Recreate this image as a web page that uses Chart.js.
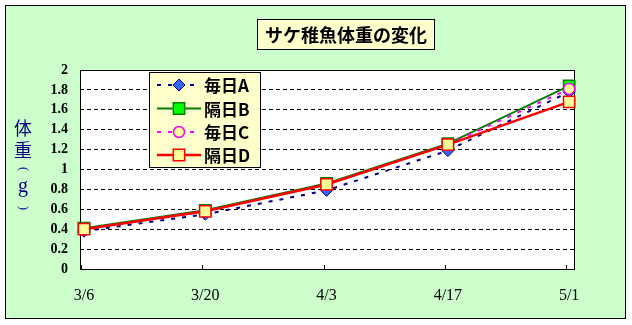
<!DOCTYPE html>
<html>
<head>
<meta charset="utf-8">
<script src="https://cdn.jsdelivr.net/npm/chart.js@4/dist/chart.umd.min.js"></script>
<style>
html,body{margin:0;padding:0;background:#fff;}
#wrap{width:632px;height:325px;position:relative;}
</style>
</head>
<body>
<div id="wrap"><canvas id="c" width="632" height="325"></canvas></div>
<script>
const titleText = 'サケ稚魚体重の変化';
const yTitleChars = ['体', '重', '(', 'g', ')'];
const categories = ['3/6', '3/20', '4/3', '4/17', '5/1'];
const yTickLabels = ['0', '0.2', '0.4', '0.6', '0.8', '1', '1.2', '1.4', '1.6', '1.8', '2'];
const seriesNames = ['毎日A', '隔日B', '毎日C', '隔日D'];
const dailyA = [0.38, 0.55, 0.79, 1.19, 1.78];
const alternateB = [0.41, 0.59, 0.86, 1.26, 1.84];
const dailyC = [0.40, 0.58, 0.85, 1.25, 1.81];
const alternateD = [0.40, 0.58, 0.85, 1.25, 1.68];

const toPts = arr => arr.map((v, i) => ({x: i, y: v}));

const datasets = [
  {label: seriesNames[0], data: toPts(dailyA), borderColor: '#000080', borderWidth: 2, borderDash: [4, 7],
   pointStyle: 'rectRot', pointRadius: 6, pointBackgroundColor: '#3366FF', pointBorderColor: '#000080', pointBorderWidth: 1, order: 3},
  {label: seriesNames[1], data: toPts(alternateB), borderColor: '#008000', borderWidth: 2,
   pointStyle: 'rect', pointRadius: 8, pointBackgroundColor: '#00FF00', pointBorderColor: '#008000', pointBorderWidth: 1.5, order: 2},
  {label: seriesNames[2], data: toPts(dailyC), borderColor: '#FF00FF', borderWidth: 2, borderDash: [4, 7],
   pointStyle: 'circle', pointRadius: 5.5, pointBackgroundColor: '#FFFF99', pointBorderColor: '#FF00FF', pointBorderWidth: 1.5, order: 1},
  {label: seriesNames[3], data: toPts(alternateD), borderColor: '#FF0000', borderWidth: 2.5,
   pointStyle: 'rect', pointRadius: 8, pointBackgroundColor: '#FFFF99', pointBorderColor: '#FF0000', pointBorderWidth: 1.5, order: 0}
];
datasets.forEach(d => { d.tension = 0; d.clip = false; d.fill = false; });

const decor = {
  id: 'decor',
  beforeDraw(chart) {
    const ctx = chart.ctx, a = chart.chartArea;
    ctx.save();
    ctx.fillStyle = '#ffffff';
    ctx.fillRect(0, 0, chart.width, chart.height);
    ctx.fillStyle = '#CCFFCC';
    ctx.fillRect(5.5, 5.5, 620, 313);
    ctx.strokeStyle = '#000';
    ctx.lineWidth = 1;
    ctx.strokeRect(5.5, 5.5, 620, 313);
    ctx.fillStyle = '#ffffff';
    ctx.fillRect(a.left, a.top, a.right - a.left, a.bottom - a.top);
    // title box
    ctx.fillStyle = '#FFFFCC';
    ctx.fillRect(257.5, 19.5, 177, 30);
    ctx.strokeRect(257.5, 19.5, 177, 30);
    ctx.fillStyle = '#000';
    ctx.font = 'bold 18px "Noto Sans CJK JP"';
    ctx.textAlign = 'center';
    ctx.textBaseline = 'middle';
    ctx.fillText(titleText, 346, 35);
    // y title (vertical)
    ctx.fillStyle = '#000080';
    const ys = [128, 150, 169, 189, 208];
    yTitleChars.forEach((ch, i) => {
      if (ch === '(' || ch === ')') {
        ctx.save();
        ctx.font = '12px "Liberation Serif"';
        ctx.translate(23, ys[i]);
        ctx.rotate(Math.PI / 2);
        ctx.fillText(ch, 0, 0);
        ctx.restore();
      } else if (ch === 'g') {
        ctx.font = '20px "Liberation Serif"';
        ctx.fillText(ch, 23, ys[i] - 2);
      } else {
        ctx.font = '18px "Noto Sans CJK JP"';
        ctx.fillText(ch, 23, ys[i]);
      }
    });
    ctx.restore();
  },
  beforeDatasetsDraw(chart) {
    const ctx = chart.ctx, a = chart.chartArea, xs = chart.scales.x;
    ctx.save();
    ctx.strokeStyle = '#000';
    ctx.lineWidth = 1;
    ctx.strokeRect(Math.round(a.left) + 0.5, Math.round(a.top) + 0.5, Math.round(a.right - a.left), Math.round(a.bottom - a.top));
    categories.forEach((c, i) => {
      const px = Math.round(xs.getPixelForValue(i)) - 2.5;
      ctx.beginPath();
      ctx.moveTo(px, a.bottom);
      ctx.lineTo(px, a.bottom - 4);
      ctx.stroke();
    });
    ctx.restore();
  },
  afterDraw(chart) {
    const ctx = chart.ctx;
    ctx.save();
    ctx.fillStyle = '#FFFFCC';
    ctx.fillRect(149.5, 72.5, 111, 95);
    ctx.strokeStyle = '#000';
    ctx.lineWidth = 1;
    ctx.strokeRect(149.5, 72.5, 111, 95);
    const rows = [85, 108.5, 132, 155];
    datasets.forEach((d, i) => {
      const y = rows[i];
      ctx.save();
      ctx.strokeStyle = d.borderColor;
      ctx.lineWidth = d.borderWidth;
      ctx.setLineDash(d.borderDash || []);
      ctx.beginPath();
      ctx.moveTo(157, y);
      ctx.lineTo(201, y);
      ctx.stroke();
      ctx.setLineDash([]);
      ctx.fillStyle = d.pointBackgroundColor;
      ctx.strokeStyle = d.pointBorderColor;
      ctx.lineWidth = d.pointBorderWidth;
      Chart.helpers.drawPoint(ctx, {pointStyle: d.pointStyle, radius: d.pointRadius, rotation: 0, borderWidth: d.pointBorderWidth}, 179, y);
      ctx.restore();
      ctx.fillStyle = '#000';
      ctx.font = 'bold 17px "Noto Sans CJK JP"';
      ctx.textAlign = 'left';
      ctx.textBaseline = 'middle';
      ctx.fillText(d.label, 204, y + 1);
    });
    ctx.restore();
  }
};

new Chart(document.getElementById('c'), {
  type: 'line',
  data: {datasets},
  options: {
    responsive: false,
    devicePixelRatio: 1,
    animation: false,
    events: [],
    layout: {padding: {left: 0, right: 58, top: 70, bottom: 0}},
    plugins: {legend: {display: false}, title: {display: false}, tooltip: {enabled: false}},
    scales: {
      x: {
        type: 'linear', min: -0.033, max: 4.04,
        afterBuildTicks: s => { s.ticks = categories.map((c, i) => ({value: i})); },
        afterFit: s => { s.height = 56; },
        grid: {display: false, drawTicks: false},
        border: {display: false},
        ticks: {
          padding: 17, color: '#000', maxRotation: 0, autoSkip: false,
          font: {family: '"Liberation Serif"', size: 16},
          callback: v => categories[v]
        }
      },
      y: {
        type: 'linear', min: 0, max: 2,
        afterBuildTicks: s => { s.ticks = yTickLabels.map((t, i) => ({value: i * 0.2})); },
        afterFit: s => { s.width = 80; },
        grid: {color: '#000', lineWidth: 1, drawTicks: false},
        border: {display: false, dash: [4, 3]},
        ticks: {
          padding: 12, color: '#000',
          font: {family: '"Liberation Serif"', size: 14, weight: 'bold'},
          callback: (v, i) => yTickLabels[i]
        }
      }
    }
  },
  plugins: [decor]
});
</script>
</body>
</html>
